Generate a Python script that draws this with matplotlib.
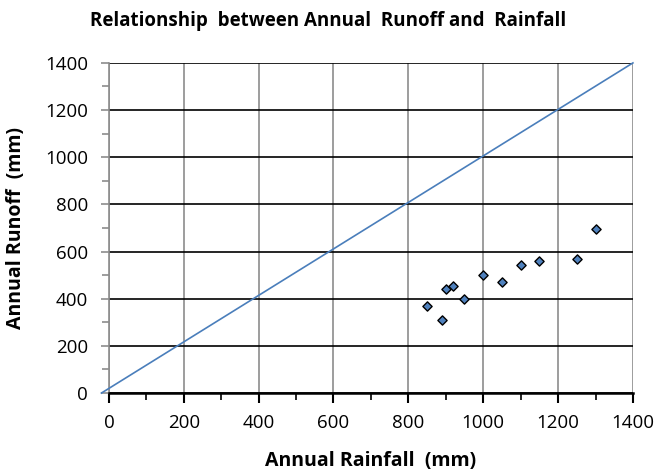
import matplotlib
matplotlib.use("Agg")
import matplotlib.pyplot as plt
from matplotlib.ticker import MultipleLocator

rainfall = [850, 890, 900, 920, 950, 1000, 1050, 1100, 1150, 1250, 1300]
runoff = [370, 310, 440, 455, 400, 500, 470, 545, 560, 567, 697]

# 1:1 reference line
line_rain = [-20, 1400]
line_runoff = [0, 1400]

plt.rcParams["font.family"] = ["Open Sans", "DejaVu Sans"]

fig = plt.figure(figsize=(6.6, 4.73), dpi=100)
ax = fig.add_axes([0.165, 0.169, 0.794, 0.698])

ax.plot(line_rain, line_runoff, color="#4a7ebb", lw=1.2, clip_on=False, zorder=3)
ax.scatter(rainfall, runoff, marker="D", s=22, facecolor="#4f81bd",
           edgecolor="black", linewidth=1.0, zorder=4)

ax.set_xlim(0, 1400)
ax.set_ylim(0, 1400)
ax.xaxis.set_major_locator(MultipleLocator(200))
ax.yaxis.set_major_locator(MultipleLocator(200))
ax.xaxis.set_minor_locator(MultipleLocator(100))
ax.yaxis.set_minor_locator(MultipleLocator(100))

ax.grid(axis="y", which="major", color="black", lw=1.2)
ax.grid(axis="x", which="major", color="#8c8c8c", lw=1.2)
ax.set_axisbelow(True)

for side in ["top", "right"]:
    ax.spines[side].set_visible(False)
ax.spines["left"].set_color("#8c8c8c")
ax.spines["left"].set_linewidth(1.2)
ax.spines["bottom"].set_color("black")
ax.spines["bottom"].set_linewidth(1.8)

ax.tick_params(axis="both", which="both", direction="out", labelsize=13.5)
ax.tick_params(axis="x", which="major", length=7, width=1.5, color="black", pad=8)
ax.tick_params(axis="x", which="minor", length=5, width=1.2, color="black")
ax.tick_params(axis="y", which="major", length=6, width=1.2, color="#8c8c8c", pad=9)
ax.tick_params(axis="y", which="minor", length=5, width=1.2, color="#8c8c8c")

ax.set_xlabel("Annual Rainfall  (mm)", fontsize=14, fontweight="bold", labelpad=14)
ax.set_ylabel("Annual Runoff  (mm)", fontsize=14, fontweight="bold", labelpad=14)
fig.text(0.497, 0.956, "Relationship  between Annual  Runoff and  Rainfall",
         ha="center", va="center", fontsize=13.5, fontweight="bold")

fig.savefig("out.png", dpi=100)
